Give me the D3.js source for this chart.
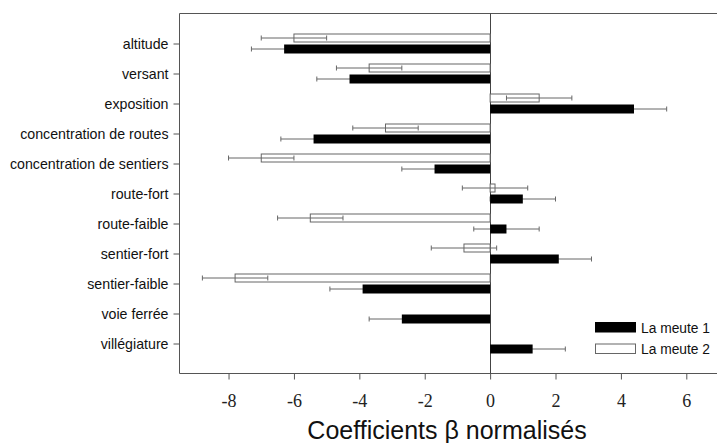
<!DOCTYPE html>
<html>
<head>
<meta charset="utf-8">
<script src="https://cdn.jsdelivr.net/npm/d3@7"></script>
<style>
  html, body { margin: 0; padding: 0; background: #fff; }
  svg { display: block; }
</style>
</head>
<body>
<div id="chart"></div>
<script>
// Variables (top to bottom)
const CATEGORIES = ['altitude', 'versant', 'exposition', 'concentration de routes', 'concentration de sentiers',
  'route-fort', 'route-faible', 'sentier-fort', 'sentier-faible', 'voie ferrée', 'villégiature'];
// La meute 1 (black) and La meute 2 (white), null = not in model
const MEUTE1 = [-6.3, -4.3, 4.4, -5.4, -1.7, 1.0, 0.5, 2.1, -3.9, -2.7, 1.3];
const MEUTE1_ERR = [1.0, 1.0, 1.0, 1.0, 1.0, 1.0, 1.0, 1.0, 1.0, 1.0, 1.0];
const MEUTE2 = [-6.0, -3.7, 1.5, -3.2, -7.0, 0.15, -5.5, -0.8, -7.8, null, null];
const MEUTE2_ERR = [1.0, 1.0, 1.0, 1.0, 1.0, 1.0, 1.0, 1.0, 1.0, null, null];
const X_TICKS = [-8, -6, -4, -2, 0, 2, 4, 6];
const SERIES = ['La meute 1', 'La meute 2'];

(function() {
  const W = 717, H = 443;
  const left = 179.5, top = 13.5, bottom = 373.5;
  const FRAME = '#555';

  const svg = d3.select('#chart').append('svg')
    .attr('width', W).attr('height', H);

  const x = d3.scaleLinear().domain([-9.5, 7]).range([left, 719]);
  const y = d3.scalePoint().domain(CATEGORIES).range([top, bottom]).padding(1);

  const rows = CATEGORIES.map((c, i) => ({
    cat: c, v1: MEUTE1[i], e1: MEUTE1_ERR[i], v2: MEUTE2[i], e2: MEUTE2_ERR[i]
  }));

  // frame
  svg.append('path')
    .attr('d', `M${W},${top}H${left}V${bottom}H${W}`)
    .attr('fill', 'none').attr('stroke', FRAME).attr('stroke-width', 1);

  // zero line
  svg.append('line')
    .attr('x1', Math.round(x(0)) + 0.5).attr('x2', Math.round(x(0)) + 0.5)
    .attr('y1', top).attr('y2', bottom)
    .attr('stroke', '#444').attr('stroke-width', 1);

  // axes
  const xAxis = svg.append('g')
    .attr('transform', `translate(0,${bottom})`)
    .call(d3.axisBottom(x).tickValues(X_TICKS).tickSize(6).tickPadding(15).tickFormat(d => d < 0 ? '-' + Math.abs(d) : d));
  xAxis.select('.domain').remove();
  xAxis.selectAll('line').attr('stroke', FRAME);
  xAxis.selectAll('text')
    .attr('font-family', '"Liberation Serif", serif')
    .attr('font-size', 18).attr('fill', '#222');

  const yAxis = svg.append('g')
    .attr('transform', `translate(${left},0)`)
    .call(d3.axisLeft(y).tickSize(6).tickPadding(5));
  yAxis.select('.domain').remove();
  yAxis.selectAll('line').attr('stroke', FRAME);
  yAxis.selectAll('text')
    .attr('font-family', '"Liberation Sans", Arial, sans-serif')
    .attr('font-size', 14.2).attr('fill', '#111');

  // white bars (meute 2), above the tick
  const r2 = rows.filter(d => d.v2 !== null);
  svg.append('g').selectAll('rect')
    .data(r2)
    .join('rect')
    .attr('x', d => x(Math.min(0, d.v2)))
    .attr('y', d => y(d.cat) - 9.5)
    .attr('width', d => Math.abs(x(d.v2) - x(0)))
    .attr('height', 8)
    .attr('fill', '#fff')
    .attr('stroke', '#666').attr('stroke-width', 1);

  // error bars
  function errBars(data, key, ekey, dy) {
    const g = svg.append('g').attr('stroke', '#666').attr('stroke-width', 1);
    g.selectAll('line.h')
      .data(data)
      .join('line').attr('class', 'h')
      .attr('x1', d => x(d[key] - d[ekey])).attr('x2', d => x(d[key] + d[ekey]))
      .attr('y1', d => y(d.cat) + dy).attr('y2', d => y(d.cat) + dy);
    g.selectAll('line.c')
      .data(data.flatMap(d => [d[key] - d[ekey], d[key] + d[ekey]].map(v => ({ cat: d.cat, v }))))
      .join('line').attr('class', 'c')
      .attr('x1', d => x(d.v)).attr('x2', d => x(d.v))
      .attr('y1', d => y(d.cat) + dy - 2.5).attr('y2', d => y(d.cat) + dy + 2.5);
  }
  errBars(r2, 'v2', 'e2', -5.5);
  errBars(rows, 'v1', 'e1', 5.5);

  // black bars (meute 1), below the tick
  svg.append('g').selectAll('rect')
    .data(rows)
    .join('rect')
    .attr('x', d => x(Math.min(0, d.v1)))
    .attr('y', d => y(d.cat) + 1)
    .attr('width', d => Math.abs(x(d.v1) - x(0)))
    .attr('height', 9)
    .attr('fill', '#000');

  // legend
  const legend = svg.append('g');
  SERIES.forEach((s, i) => {
    const ly = 322.5 + i * 21.5;
    legend.append('rect')
      .attr('x', 595.5).attr('y', ly).attr('width', 40).attr('height', 9.5)
      .attr('fill', i === 0 ? '#000' : '#fff')
      .attr('stroke', i === 0 ? '#000' : '#666');
    legend.append('text')
      .attr('x', 641).attr('y', ly + 10)
      .attr('font-family', '"Liberation Sans", Arial, sans-serif')
      .attr('font-size', 13.8).attr('fill', '#111')
      .text(s);
  });

  // x title
  svg.append('text')
    .attr('x', 447).attr('y', 439)
    .attr('text-anchor', 'middle')
    .attr('font-family', '"Liberation Sans", Arial, sans-serif')
    .attr('font-size', 25).attr('fill', '#111')
    .text('Coefficients β normalisés');
})();
</script>
</body>
</html>
